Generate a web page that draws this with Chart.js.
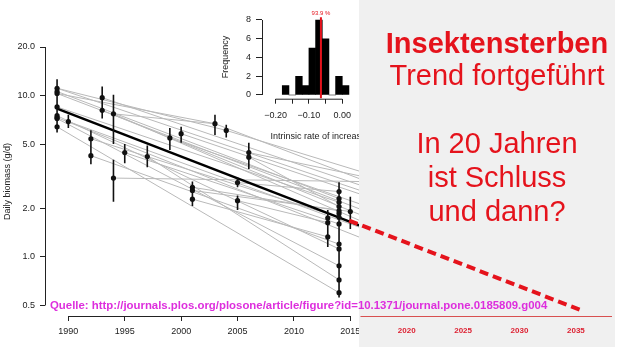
<!DOCTYPE html>
<html>
<head>
<meta charset="utf-8">
<script src="https://cdn.jsdelivr.net/npm/chart.js@4.4.1/dist/chart.umd.min.js"></script>
<style>
body { margin: 0; background: #fff; }
#wrap { position: relative; width: 620px; height: 354px; overflow: hidden; font-family: "Liberation Sans", Arial, sans-serif; }
canvas { position: absolute; }
#panel { position: absolute; left: 359px; top: 0; width: 256px; height: 347px; background: #f0f0f0; }
.red { position: absolute; left: 380px; width: 234px; text-align: center; color: #e5131c; font-size: 29px; line-height: 29px; white-space: nowrap; }
#quelle { position: absolute; left: 50px; top: 300.4px; color: #dd2edd; font-weight: bold; font-size: 11.4px; line-height: 11.4px; white-space: nowrap; }
</style>
</head>
<body>
<div id="wrap">
  <canvas id="main" width="620" height="354" style="left:0;top:0"></canvas>
  <canvas id="hist" width="175" height="150" style="left:200px;top:0"></canvas>
  <div id="panel"></div>
  <canvas id="over" width="620" height="354" style="left:0;top:0"></canvas>
  <div class="red" style="top:28.8px;font-weight:bold">Insektensterben</div>
  <div class="red" style="top:60.5px">Trend fortgeführt</div>
  <div class="red" style="top:128.8px">In 20 Jahren</div>
  <div class="red" style="top:163px">ist Schluss</div>
  <div class="red" style="top:197.2px">und dann?</div>
  <div id="quelle">Quelle: http://journals.plos.org/plosone/article/figure?id=10.1371/journal.pone.0185809.g004</div>
</div>
<script>
// Jahresmittel der Tagesbiomasse (g/d) mit Fehlerbalken
const ptYears = [1989, 1989, 1989, 1989, 1989, 1989, 1989, 1989, 1990, 1992, 1992, 1993, 1993, 1994, 1994,
  1995, 1997, 1999, 2000, 2001, 2001, 2001, 2003, 2004, 2005, 2005, 2006, 2006, 2013, 2013, 2013,
  2014, 2014, 2014, 2014, 2014, 2014, 2014, 2014, 2014, 2014, 2014, 2014, 2014, 2015];
const ptMeans = [11.1, 10.6, 10.3, 8.5, 7.5, 7.3, 7.2, 6.4, 6.9, 5.4, 4.24, 9.7, 8.1, 7.7, 3.08,
  4.43, 4.19, 5.46, 5.8, 2.7, 2.58, 2.28, 6.69, 6.08, 2.89, 2.23, 4.43, 4.15, 1.74, 1.63, 1.33,
  2.54, 2.3, 2.18, 2.05, 1.93, 1.86, 1.76, 1.6, 1.2, 1.12, 0.88, 0.72, 0.6, 1.91];
const ptLow = [9.7, 9.3, 9.0, 7.5, 6.6, 6.4, 6.3, 5.9, 6.3, 4.8, 3.75, 8.6, 7.2, 5.0, 2.2,
  3.8, 3.6, 4.6, 5.1, 2.5, 2.4, 2.07, 5.7, 5.5, 2.7, 1.95, 3.9, 3.5, 1.55, 1.45, 1.15,
  2.2, 2.0, 1.9, 1.8, 1.7, 1.6, 1.55, 1.4, 1.02, 0.98, 0.75, 0.62, 0.56, 1.49];
const ptHigh = [12.6, 12.0, 11.7, 9.7, 8.5, 8.3, 8.2, 7.0, 7.6, 6.1, 4.8, 11.4, 9.1, 10.1, 4.0,
  5.0, 4.9, 6.3, 6.4, 2.93, 2.8, 2.5, 7.6, 6.6, 3.1, 2.4, 5.1, 4.6, 1.95, 1.8, 1.5,
  2.9, 2.6, 2.5, 2.35, 2.2, 2.1, 2.0, 1.8, 1.42, 1.28, 1.05, 0.88, 0.68, 2.36];

// Standortspezifische Trends (graue Linien): Start- und Endjahr/-wert
const glYear0 = [2004, 2003, 1994, 1993, 1989, 2000, 2006, 1989, 1989, 1994, 1989, 1993, 1994, 1999, 1990, 1989,
  1989, 1989, 1992, 1992, 1989, 1989, 1995, 1997, 1989, 2001, 2001, 2005, 2005, 2001, 2006];
const glVal0 = [6.08, 6.69, 3.08, 9.7, 11.1, 5.8, 4.43, 11.1, 10.3, 7.7, 10.3, 8.1, 7.7, 5.46, 6.9, 7.3,
  10.6, 8.5, 5.4, 4.24, 7.5, 7.2, 4.43, 4.19, 6.4, 2.7, 2.28, 2.89, 2.23, 2.58, 4.15];
const glYear1 = [2016.1, 2016.1, 2016.1, 2016.1, 2016.1, 2016.1, 2016.1, 2004, 2003, 2003, 2016.1, 2016.1, 2016.1, 2016.1, 2016.1, 2016.1,
  2014, 2014, 2014, 2014, 2014, 2014, 2014, 2014, 2014, 2014, 2013, 2014, 2013, 2015, 2014];
const glVal1 = [3.35, 3.0, 2.93, 2.75, 2.55, 2.42, 3.15, 6.08, 6.69, 6.69, 1.95, 1.8, 1.65, 2.1, 1.5, 1.3,
  2.3, 2.18, 1.76, 1.2, 1.12, 0.88, 1.6, 0.72, 0.6, 1.93, 1.33, 2.54, 1.63, 1.91, 2.05];

// Gesamttrend und rote Fortsetzung bis 2035
const trendYears = [1989, 2016.2];
const trendVals = [8.3, 1.53];
const extYears = [2014.9, 2035.36];
const extVals = [1.68, 0.47];

const yTicks = [0.5, 1, 2, 5, 10, 20];
const xTicksData = [1990, 1995, 2000, 2005, 2010, 2015];
const xTicksExt = [2020, 2025, 2030, 2035];

// Inset: Histogramm der Wachstumsraten
const histBins = [-0.17, -0.15, -0.13, -0.11, -0.09, -0.07, -0.05, -0.03, -0.01, 0.01];
const histCounts = [1, 0, 2, 1, 5, 8, 6, 0, 2, 1];
const histTicks = [-0.2, -0.15, -0.1, -0.05, 0];
const histTickLabels = ['\u22120.20', '', '\u22120.10', '', '0.00'];
const freqTicks = [0, 2, 4, 6, 8];
const quantileX = -0.064;
const quantileLabel = '93.9 %';

Chart.defaults.font.family = '"Liberation Sans", Arial, sans-serif';
Chart.defaults.animation = false;
Chart.defaults.plugins.legend.display = false;
Chart.defaults.plugins.tooltip.enabled = false;

const RED = '#e5131c';
const X_MIN = 1987.93, X_MAX = 2038.2, Y_MIN = 0.43, Y_MAX = 20;

function setTicks(list) {
  return scale => { scale.ticks = list.map(v => ({ value: v })); };
}

// x/y-Skalen fuer Hauptdiagramm und Overlay (gleiche Geometrie)
function mainScales(overlay) {
  return {
    x: {
      type: 'linear', min: X_MIN, max: X_MAX,
      afterBuildTicks: setTicks(overlay ? xTicksExt : xTicksData),
      afterFit: s => { s.height = 30; },
      border: { display: false },
      grid: { drawOnChartArea: false, tickLength: 5, color: overlay ? 'rgba(0,0,0,0)' : '#222' },
      ticks: {
        autoSkip: false, maxRotation: 0, padding: 5,
        color: overlay ? '#dd2233' : '#222',
        font: overlay ? { size: 8, weight: 'bold' } : { size: 9 },
        callback: v => String(v)
      }
    },
    y: {
      type: 'logarithmic', min: Y_MIN, max: Y_MAX,
      afterBuildTicks: setTicks(yTicks),
      afterFit: s => { s.width = 45; },
      border: { display: false },
      grid: { drawOnChartArea: false, tickLength: 5, color: overlay ? 'rgba(0,0,0,0)' : '#222' },
      ticks: { display: !overlay, padding: 5, color: '#222', font: { size: 9 }, callback: v => v.toFixed(1) },
      title: { display: !overlay, text: 'Daily biomass (g/d)', color: '#222', font: { size: 9 }, padding: { top: 2, bottom: 0 } }
    }
  };
}

const layoutPad = { left: 0, right: 8, top: 47, bottom: 8 };

// Achsenlinien im R-Stil (nur zwischen erstem und letztem Tick)
const mainAxes = {
  id: 'mainAxes',
  afterDraw(chart) {
    const { ctx, chartArea, scales: { x, y } } = chart;
    ctx.save();
    ctx.strokeStyle = '#222';
    ctx.lineWidth = 1;
    ctx.beginPath();
    ctx.moveTo(chartArea.left + 0.5, y.getPixelForValue(yTicks[yTicks.length - 1]));
    ctx.lineTo(chartArea.left + 0.5, y.getPixelForValue(yTicks[0]));
    ctx.moveTo(x.getPixelForValue(xTicksData[0]), chartArea.bottom + 0.5);
    ctx.lineTo(x.getPixelForValue(xTicksData[xTicksData.length - 1]), chartArea.bottom + 0.5);
    ctx.stroke();
    ctx.restore();
  }
};

const points = ptYears.map((x, i) => ({ x, y: ptMeans[i] }));
const errBars = [];
ptYears.forEach((x, i) => { errBars.push({ x, y: ptLow[i] }, { x, y: ptHigh[i] }, { x, y: null }); });
const grayLines = [];
glYear0.forEach((x, i) => { grayLines.push({ x, y: glVal0[i] }, { x: glYear1[i], y: glVal1[i] }, { x: glYear1[i], y: null }); });

new Chart(document.getElementById('main'), {
  type: 'scatter',
  data: {
    datasets: [
      { data: points, pointRadius: 2.6, pointBackgroundColor: '#111', pointBorderWidth: 0, showLine: false, order: 0 },
      { data: errBars, showLine: true, borderColor: '#111', borderWidth: 1.6, pointRadius: 0, order: 1 },
      { data: trendYears.map((x, i) => ({ x, y: trendVals[i] })), showLine: true, borderColor: '#000', borderWidth: 2.5, pointRadius: 0, order: 2 },
      { data: grayLines, showLine: true, borderColor: '#b9b9b9', borderWidth: 1, pointRadius: 0, order: 3 }
    ]
  },
  options: { responsive: false, layout: { padding: layoutPad }, scales: mainScales(false) },
  plugins: [mainAxes]
});

// Inset-Histogramm
const histAxes = {
  id: 'histAxes',
  afterDraw(chart) {
    const { ctx, chartArea, scales: { x, y } } = chart;
    ctx.save();
    ctx.strokeStyle = '#222';
    ctx.lineWidth = 1;
    ctx.beginPath();
    ctx.moveTo(chartArea.left + 0.5, y.getPixelForValue(freqTicks[0]));
    ctx.lineTo(chartArea.left + 0.5, y.getPixelForValue(freqTicks[freqTicks.length - 1]));
    ctx.moveTo(x.getPixelForValue(histTicks[0]), chartArea.bottom + 0.5);
    ctx.lineTo(x.getPixelForValue(histTicks[histTicks.length - 1]), chartArea.bottom + 0.5);
    ctx.stroke();
    ctx.fillStyle = RED;
    ctx.font = '6px "Liberation Sans", Arial, sans-serif';
    ctx.textAlign = 'center';
    ctx.textBaseline = 'middle';
    ctx.fillText(quantileLabel, x.getPixelForValue(quantileX), y.getPixelForValue(8.29) - 3.5);
    ctx.restore();
  }
};

new Chart(document.getElementById('hist'), {
  type: 'bar',
  data: {
    datasets: [
      { type: 'line', data: [{ x: quantileX, y: -0.35 }, { x: quantileX, y: 8.29 }], borderColor: RED, borderWidth: 2, pointRadius: 0 },
      { type: 'bar', data: histBins.map((x, i) => ({ x, y: histCounts[i] })), backgroundColor: '#000', borderWidth: 0, barPercentage: 1, categoryPercentage: 1 }
    ]
  },
  options: {
    responsive: false,
    layout: { padding: { left: 0, right: 9, top: 15.3, bottom: 3.3 } },
    scales: {
      x: {
        type: 'linear', min: -0.2096, max: 0.04,
        afterBuildTicks: setTicks(histTicks),
        afterFit: s => { s.height = 48; },
        border: { display: false },
        grid: { drawOnChartArea: false, tickLength: 5, color: '#222', offset: false },
        ticks: { autoSkip: false, maxRotation: 0, padding: 6, color: '#222', font: { size: 9 }, callback: (v, i) => histTickLabels[i] },
        title: { display: true, text: 'Intrinsic rate of increase', align: 'end', color: '#222', font: { size: 9 }, padding: { top: 0, bottom: 4.6 } }
      },
      y: {
        type: 'linear', min: -0.395, max: 8.5,
        afterBuildTicks: setTicks(freqTicks),
        afterFit: s => { s.width = 62; },
        border: { display: false },
        grid: { drawOnChartArea: false, tickLength: 6, color: '#222' },
        ticks: { padding: 5, color: '#222', font: { size: 9 } },
        title: { display: true, text: 'Frequency', color: '#222', font: { size: 9 }, padding: { top: 20, bottom: 0 } }
      }
    }
  },
  plugins: [histAxes]
});

// Overlay: rote Fortsetzung ueber dem grauen Feld
const overAxis = {
  id: 'overAxis',
  afterDraw(chart) {
    const { ctx, chartArea, scales: { x } } = chart;
    ctx.save();
    ctx.strokeStyle = '#d85050';
    ctx.lineWidth = 1;
    ctx.beginPath();
    ctx.moveTo(x.getPixelForValue(2015.9), chartArea.bottom + 0.5);
    ctx.lineTo(chartArea.right, chartArea.bottom + 0.5);
    ctx.stroke();
    ctx.restore();
  }
};

new Chart(document.getElementById('over'), {
  type: 'scatter',
  data: {
    datasets: [
      { data: extYears.map((x, i) => ({ x, y: extVals[i] })), showLine: true, borderColor: RED, borderWidth: 4, borderDash: [9, 5], pointRadius: 0 }
    ]
  },
  options: { responsive: false, layout: { padding: layoutPad }, scales: mainScales(true) },
  plugins: [overAxis]
});
</script>
</body>
</html>
